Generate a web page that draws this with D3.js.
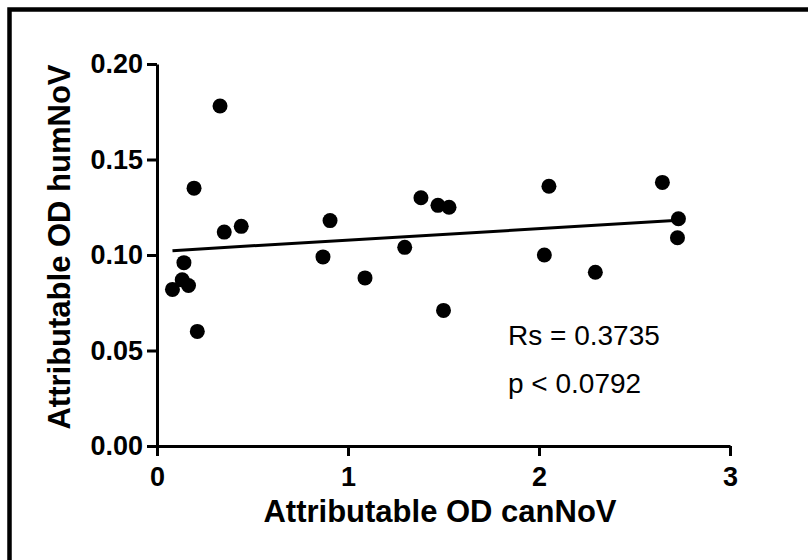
<!DOCTYPE html>
<html>
<head>
<meta charset="utf-8">
<script src="https://cdn.jsdelivr.net/npm/d3@7"></script>
<style>
  body { margin: 0; background: #fff; }
  svg { display: block; font-family: "Liberation Sans", Arial, sans-serif; }
  .axis path, .axis line { stroke: #000; stroke-width: 3; }
  .axis text { font-size: 27px; font-weight: bold; fill: #000; font-family: "Liberation Sans", Arial, sans-serif; }
</style>
</head>
<body>
<svg width="808" height="560"></svg>
<script>
// attributable OD values per sample
const canNoV = [0.081, 0.132, 0.165, 0.141, 0.211, 0.194, 0.330, 0.352, 0.441,
  0.869, 0.906, 1.089, 1.297, 1.382, 1.471, 1.529, 1.500,
  2.028, 2.052, 2.295, 2.646, 2.730, 2.725];
const humNoV = [0.082, 0.087, 0.084, 0.096, 0.060, 0.135, 0.178, 0.112, 0.115,
  0.099, 0.118, 0.088, 0.104, 0.130, 0.126, 0.125, 0.071,
  0.100, 0.136, 0.091, 0.138, 0.119, 0.109];

const xTicks = [0, 1, 2, 3];
const yTicks = [0.00, 0.05, 0.10, 0.15, 0.20];

// fitted line as drawn
const fitIntercept = 0.1018;
const fitSlope = 0.0060;

const statLines = ['Rs = 0.3735', 'p < 0.0792'];

const svg = d3.select('svg');

// outer frame (runs off the right and bottom)
svg.append('rect')
  .attr('x', 9.5).attr('y', 9.5)
  .attr('width', 900).attr('height', 700)
  .attr('fill', 'none').attr('stroke', '#000').attr('stroke-width', 4.5);

const x = d3.scaleLinear().domain([0, 3]).range([157, 730]);
const y = d3.scaleLinear().domain([0, 0.2]).range([446, 64]);

svg.append('g')
  .attr('class', 'axis')
  .attr('transform', `translate(0,${y(0)})`)
  .call(d3.axisBottom(x).tickValues(xTicks).tickFormat(d3.format('d'))
    .tickSize(10).tickSizeOuter(0).tickPadding(11));

svg.append('g')
  .attr('class', 'axis')
  .attr('transform', `translate(${x(0)},0)`)
  .call(d3.axisLeft(y).tickValues(yTicks).tickFormat(d3.format('.2f'))
    .tickSize(10).tickSizeOuter(0).tickPadding(4));

// regression line over the data range
const [xMin, xMax] = d3.extent(canNoV);
svg.append('line')
  .attr('x1', x(xMin)).attr('y1', y(fitIntercept + fitSlope * xMin))
  .attr('x2', x(xMax)).attr('y2', y(fitIntercept + fitSlope * xMax))
  .attr('stroke', '#000').attr('stroke-width', 3);

svg.append('g')
  .selectAll('circle')
  .data(canNoV.map((d, i) => [d, humNoV[i]]))
  .enter().append('circle')
    .attr('cx', d => x(d[0]))
    .attr('cy', d => y(d[1]))
    .attr('r', 7.5)
    .attr('fill', '#000');

svg.append('text')
  .attr('x', 440).attr('y', 522)
  .attr('text-anchor', 'middle')
  .attr('font-size', 31).attr('font-weight', 'bold')
  .text('Attributable OD canNoV');

svg.append('text')
  .attr('transform', 'translate(70,247) rotate(-90)')
  .attr('text-anchor', 'middle')
  .attr('font-size', 31).attr('font-weight', 'bold')
  .text('Attributable OD humNoV');

svg.append('g')
  .selectAll('text')
  .data(statLines)
  .enter().append('text')
    .attr('x', 508)
    .attr('y', (d, i) => 345 + i * 48)
    .attr('font-size', 28)
    .text(d => d);
</script>
</body>
</html>
